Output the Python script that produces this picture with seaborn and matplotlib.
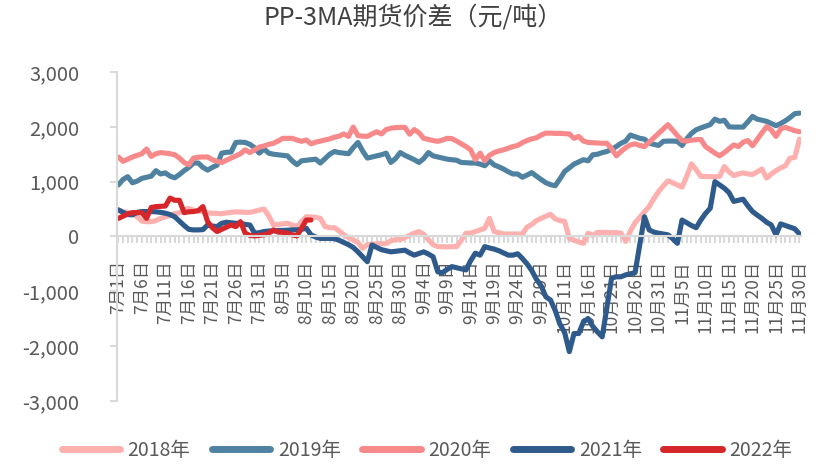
import matplotlib
matplotlib.use("Agg")
import matplotlib.pyplot as plt
import seaborn as sns
import pandas as pd
import numpy as np
from matplotlib.ticker import FuncFormatter, FixedLocator, FixedFormatter

# trading calendar Jul 1 - Nov 30, National Day week (Oct 1-7) left out
days = [d for d in pd.date_range("2022-07-01", "2022-11-30")
        if not (d.month == 10 and d.day <= 7)]
date_labels = [f"{d.month}月{d.day}日" for d in days]

years = ["2018年", "2019年", "2020年", "2021年", "2022年"]
colors = ["#FDB0AE", "#4F82A1", "#F7898A", "#2F5B8C", "#D7262A"]

v2018 = [480, 450, 440, 420, 360, 280, 270, 270, 290, 330,
         360, 380, 420, 430, 490, 510, 480, 470, 450, 430,
         425, 420, 415, 430, 440, 450, 445, 440, 440, 460,
         480, 500, 380, 210, 220, 230, 240, 210, 180, 270,
         360, 355, 350, 330, 180, 160, 160, 100, 30, -20,
         -60, -110, -215, -150, -140, -135, -130, -130, -80, -55,
         -55, -20, 20, 60, 90, 40, -60, -150, -185, -185,
         -190, -185, -185, -70, 60, 60, 90, 120, 150, 330,
         90, 70, 45, 45, 45, 45, 45, 170, 220, 290,
         330, 370, 405, 320, 290, 275, -35, -70, -100, -125,
         60, 20, 75, 75, 75, 70, 70, 60, -90, 100,
         250, 350, 450, 545, 690, 820, 920, 1015, 980, 940,
         900, 1100, 1325, 1220, 1095, 1095, 1090, 1090, 1095, 1275,
         1180, 1110, 1140, 1160, 1140, 1130, 1180, 1230, 1065, 1140,
         1200, 1250, 1290, 1430, 1440, 1775]

v2019 = [940, 1040, 1090, 980, 1010, 1060, 1080, 1100, 1200, 1140,
         1160, 1100, 1070, 1130, 1200, 1260, 1340, 1340, 1260, 1210,
         1260, 1300, 1520, 1535, 1540, 1715, 1720, 1715, 1680, 1620,
         1520, 1595, 1520, 1500, 1490, 1480, 1470, 1380, 1310, 1380,
         1390, 1400, 1410, 1340, 1420, 1500, 1550, 1530, 1520, 1510,
         1620, 1715, 1560, 1430, 1450, 1470, 1490, 1520, 1350, 1420,
         1530, 1480, 1440, 1400, 1350, 1420, 1530, 1470, 1450, 1430,
         1410, 1400, 1390, 1350, 1345, 1340, 1340, 1320, 1290, 1380,
         1305, 1270, 1230, 1180, 1140, 1140, 1080, 1120, 1165, 1100,
         1040, 980, 945, 925, 1050, 1185, 1250, 1320, 1360, 1400,
         1380, 1490, 1500, 1530, 1550, 1590, 1640, 1700, 1740, 1850,
         1820, 1790, 1775, 1700, 1680, 1660, 1735, 1740, 1740, 1735,
         1660, 1780, 1880, 1945, 1980, 2010, 2040, 2140, 2100, 2120,
         2000, 1995, 1995, 1995, 2090, 2190, 2140, 2120, 2100, 2060,
         2020, 2060, 2110, 2170, 2240, 2250]

v2020 = [1450, 1370, 1410, 1450, 1480, 1510, 1595, 1460, 1510, 1530,
         1520, 1510, 1490, 1430, 1350, 1307, 1430, 1445, 1450, 1450,
         1400, 1370, 1350, 1390, 1430, 1470, 1510, 1580, 1530, 1580,
         1630, 1650, 1680, 1700, 1740, 1790, 1790, 1790, 1760, 1735,
         1760, 1690, 1720, 1740, 1760, 1780, 1810, 1830, 1870, 1825,
         1995, 1840, 1830, 1825, 1870, 1910, 1870, 1950, 1975, 1985,
         1990, 1990, 1865, 1950, 1890, 1790, 1770, 1750, 1735, 1760,
         1790, 1785, 1740, 1690, 1640, 1580, 1400, 1520, 1380, 1480,
         1530, 1560, 1580, 1610, 1640, 1660, 1710, 1750, 1780, 1800,
         1850, 1885, 1885, 1880, 1880, 1875, 1870, 1790, 1825, 1740,
         1715, 1710, 1705, 1700, 1700, 1600, 1470, 1550, 1620, 1670,
         1690, 1660, 1640, 1720, 1800, 1880, 1960, 2040, 1940, 1840,
         1750, 1740, 1755, 1765, 1770, 1640, 1580, 1520, 1470, 1530,
         1600, 1670, 1640, 1720, 1750, 1655, 1770, 1890, 2005, 1940,
         1825, 1960, 1990, 1960, 1930, 1910]

v2021 = [485, 440, 400, 395, 440, 455, 455, 455, 450, 440,
         425, 400, 360, 280, 200, 130, 120, 120, 125, 210,
         190, 180, 240, 260, 250, 240, 240, 220, 210, 60,
         70, 90, 100, 100, 110, 110, 115, 120, 120, 130,
         150, 30, -10, -35, -35, -35, -40, -70, -110, -150,
         -200, -280, -370, -460, -155, -200, -240, -260, -280, -270,
         -260, -250, -300, -340, -310, -280, -320, -370, -645, -660,
         -600, -550, -570, -590, -610, -440, -305, -340, -185, -210,
         -230, -260, -300, -340, -340, -315, -400, -500, -620, -780,
         -900, -1100, -1160, -1350, -1600, -1750, -2100, -1770, -1770, -1560,
         -1495, -1640, -1740, -1830, -1300, -760, -735, -735, -700, -680,
         -660, -150, 360, 120, 80, 60, 45, 30, -40, -125,
         300, 250, 200, 160, 300, 420, 515, 1000, 940, 880,
         800, 640, 660, 680, 560, 455, 390, 330, 260, 210,
         30, 230, 200, 170, 140, 45]

v2022 = [330, 370, 410, 435, 435, 435, 330, 530, 545, 550,
         555, 700, 660, 660, 435, 450, 455, 470, 545, 270,
         160, 90, 130, 170, 210, 180, 270, 60, 20, 10,
         20, 30, 60, 120, 80, 75, 60, 30, 10, 150,
         300, 300]

series = [v2018, v2019, v2020, v2021, v2022]
frames = []
for name, vals in zip(years, series):
    frames.append(pd.DataFrame({"idx": np.arange(len(vals)), "value": vals, "year": name}))
df = pd.concat(frames, ignore_index=True)

sns.set_theme(style="white")
plt.rcParams["font.family"] = ["Noto Sans CJK SC", "DejaVu Sans"]

fig = plt.figure(figsize=(8.26, 4.68), dpi=100)
ax = fig.add_axes([0.1416, 0.1432, 0.828, 0.703])

sns.lineplot(data=df, x="idx", y="value", hue="year", palette=colors,
             linewidth=3.7, ax=ax, legend=True)

grey = "#D9D9D9"
txt = "#595959"
ax.set_xlim(-0.3, len(days) - 0.7)
ax.set_ylim(-3000, 3000)
ax.set_yticks([-3000, -2000, -1000, 0, 1000, 2000, 3000])
ax.yaxis.set_major_formatter(FuncFormatter(lambda v, p: f"{v:,.0f}"))

ax.xaxis.set_major_locator(FixedLocator(list(range(len(days)))))
ax.xaxis.set_major_formatter(FixedFormatter(
    [lab if i % 5 == 0 else "" for i, lab in enumerate(date_labels)]))

for s in ["top", "right"]:
    ax.spines[s].set_visible(False)
ax.spines["bottom"].set_position(("data", 0))
ax.spines["bottom"].set_color(grey)
ax.spines["bottom"].set_linewidth(1.5)
ax.spines["left"].set_color(grey)
ax.spines["left"].set_linewidth(1.5)
ax.tick_params(axis="x", bottom=True, length=5, width=1.5, color=grey, pad=12,
               labelrotation=90, labelsize=12.5, labelcolor=txt)
ax.tick_params(axis="y", left=True, length=5, width=1.5, color=grey, pad=22,
               labelsize=14.5, labelcolor=txt)
ax.set_xlabel("")
ax.set_ylabel("")

handles, labels = ax.get_legend_handles_labels()
ax.get_legend().remove()
for h in handles:
    h.set_linewidth(5)
fig.legend(handles, labels, loc="center", bbox_to_anchor=(0.517, 0.038), ncol=5,
           frameon=False, fontsize=14, handlelength=3.0, handletextpad=0.4,
           columnspacing=1.1, labelcolor=txt)

fig.suptitle("PP-3MA期货价差（元/吨）", x=0.5, y=0.99, fontsize=18, color="#404040")

fig.savefig("out.png", dpi=100)
